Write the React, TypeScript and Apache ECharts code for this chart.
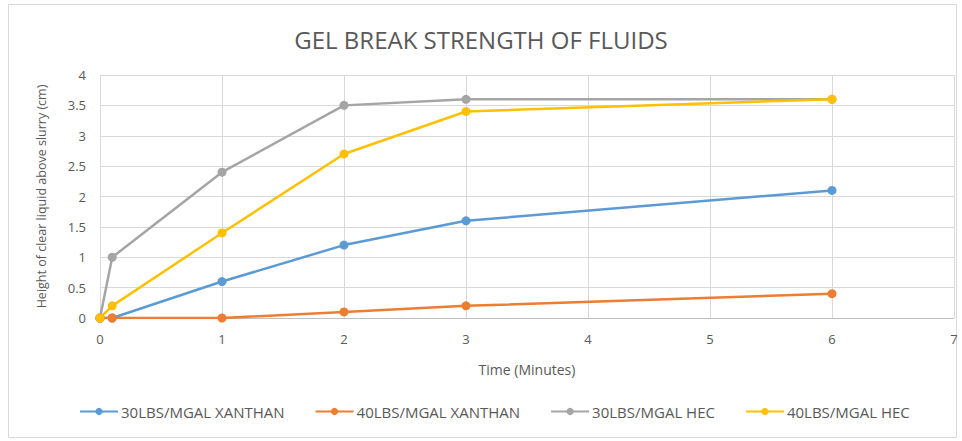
import React, { useEffect, useRef } from "react";
import * as echarts from "echarts";

const times = [0, 0.1, 1, 2, 3, 6];
const seriesNames = ["30LBS/MGAL XANTHAN", "40LBS/MGAL XANTHAN", "30LBS/MGAL HEC", "40LBS/MGAL HEC"];
const xanthan30 = [0, 0, 0.6, 1.2, 1.6, 2.1];
const xanthan40 = [0, 0, 0, 0.1, 0.2, 0.4];
const hec30 = [0, 1.0, 2.4, 3.5, 3.6, 3.6];
const hec40 = [0, 0.2, 1.4, 2.7, 3.4, 3.6];
const colors = ["#5B9BD5", "#ED7D31", "#A5A5A5", "#FFC000"];

const FONT = "'Open Sans', sans-serif";

export default function App() {
  const ref = useRef<HTMLDivElement>(null);
  useEffect(() => {
    if (!ref.current) return;
    const chart = echarts.init(ref.current, null, { renderer: "svg" });
    const values = [xanthan30, xanthan40, hec30, hec40];
    chart.setOption({
      animation: false,
      backgroundColor: "#ffffff",
      color: colors,
      title: {
        text: "GEL BREAK STRENGTH OF FLUIDS",
        left: "center",
        top: 22,
        textStyle: { fontFamily: FONT, fontSize: 24, fontWeight: "normal", color: "#595959" },
      },
      graphic: [
        {
          type: "rect",
          shape: { x: 8.5, y: 4.5, width: 948, height: 433 },
          style: { fill: "none", stroke: "#D9D9D9", lineWidth: 1 },
          silent: true,
        },
      ],
      grid: { left: 100, right: 8, top: 75, bottom: 123, containLabel: false },
      xAxis: {
        type: "value",
        min: 0,
        max: 7,
        interval: 1,
        name: "Time (Minutes)",
        nameLocation: "middle",
        nameGap: 44,
        nameTextStyle: { fontFamily: FONT, fontSize: 14, color: "#595959" },
        axisLine: { show: true, lineStyle: { color: "#BFBFBF" } },
        axisTick: { show: false },
        axisLabel: { fontFamily: FONT, fontSize: 13, color: "#595959", margin: 14 },
        splitLine: { show: true, lineStyle: { color: "#D9D9D9" } },
      },
      yAxis: {
        type: "value",
        min: 0,
        max: 4,
        interval: 0.5,
        name: "Height of clear liquid above slurry (cm)",
        nameLocation: "middle",
        nameGap: 52,
        nameTextStyle: { fontFamily: FONT, fontSize: 12.5, color: "#595959" },
        axisLine: { show: false },
        axisTick: { show: false },
        axisLabel: { fontFamily: FONT, fontSize: 13, color: "#595959", margin: 14 },
        splitLine: { show: true, lineStyle: { color: "#D9D9D9" } },
      },
      legend: {
        bottom: 17,
        left: 74,
        itemGap: 30,
        itemWidth: 38,
        itemHeight: 9,
        textStyle: { fontFamily: FONT, fontSize: 15, color: "#595959", padding: [0, 0, 0, -2] },
        data: seriesNames,
      },
      series: seriesNames.map((name, i) => ({
        name,
        type: "line",
        data: times.map((t, j) => [t, values[i][j]]),
        symbol: "circle",
        symbolSize: 9,
        lineStyle: { width: 2.5, color: colors[i] },
        itemStyle: { color: colors[i] },
        z: i === 2 ? 2 : 3,
      })),
    });
    return () => chart.dispose();
  }, []);
  return (
    <div
      ref={ref}
      style={{ position: "fixed", left: 0, top: 0, width: 962, height: 441 }}
    />
  );
}
